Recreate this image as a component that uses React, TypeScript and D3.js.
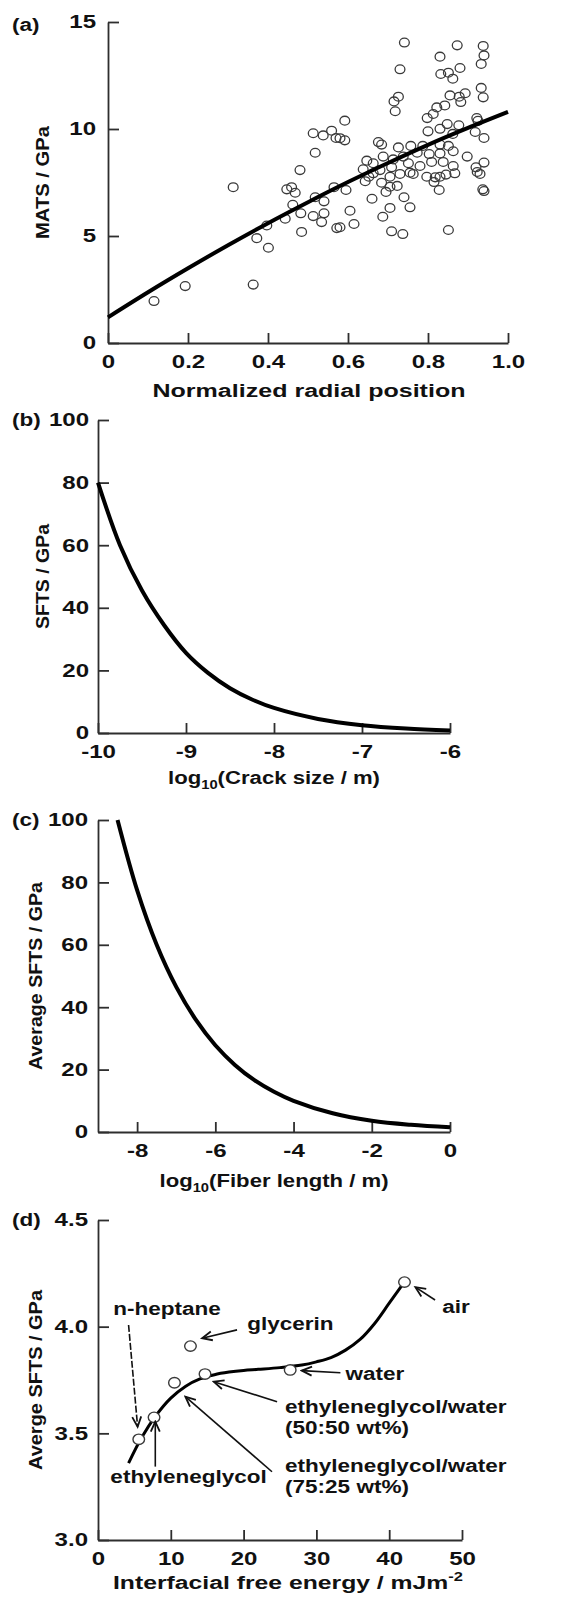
import React, { useEffect, useRef } from 'react';
import * as d3 from 'd3';

// (a) MATS vs normalized radial position
const matsScatter: [number, number][] = [
  [0.115, 1.96], [0.193, 2.66], [0.363, 2.73], [0.372, 4.9], [0.401, 4.45], [0.397, 5.49],
  [0.443, 5.81], [0.484, 5.19], [0.482, 6.06], [0.513, 5.93], [0.54, 6.06], [0.534, 5.65],
  [0.572, 5.37], [0.605, 6.18], [0.462, 6.46], [0.518, 6.81], [0.54, 6.62], [0.313, 7.28],
  [0.447, 7.18], [0.459, 7.28], [0.468, 7.02], [0.565, 7.28], [0.595, 7.15], [0.48, 8.08],
  [0.518, 8.89], [0.513, 9.8], [0.538, 9.7], [0.559, 9.92], [0.57, 9.58], [0.592, 9.47],
  [0.592, 10.39], [0.58, 5.41], [0.615, 5.56], [0.687, 5.9], [0.705, 6.31], [0.755, 6.34],
  [0.709, 5.22], [0.737, 5.09], [0.851, 5.28], [0.66, 6.74], [0.74, 6.81], [0.695, 7.06],
  [0.705, 7.3], [0.723, 7.34], [0.684, 7.49], [0.643, 7.56], [0.755, 7.96], [0.818, 7.74],
  [0.815, 7.52], [0.845, 7.87], [0.828, 7.15], [0.923, 7.99], [0.93, 7.9], [0.937, 7.18],
  [0.94, 7.1], [0.741, 14.04], [0.873, 13.91], [0.938, 13.88], [0.94, 13.44], [0.83, 13.38],
  [0.933, 13.04], [0.73, 12.79], [0.88, 12.85], [0.832, 12.57], [0.851, 12.63], [0.862, 12.35],
  [0.933, 11.92], [0.938, 11.48], [0.855, 11.57], [0.878, 11.51], [0.893, 11.67], [0.882, 11.26],
  [0.726, 11.51], [0.715, 11.29], [0.718, 10.83], [0.822, 11.01], [0.842, 11.1], [0.813, 10.7],
  [0.798, 10.51], [0.922, 10.51], [0.918, 9.86], [0.94, 9.58], [0.83, 10.01], [0.848, 10.23],
  [0.877, 10.17], [0.8, 9.89], [0.862, 9.77], [0.676, 9.39], [0.684, 9.27], [0.726, 9.14],
  [0.757, 9.21], [0.787, 9.21], [0.83, 9.27], [0.851, 9.21], [0.647, 8.52], [0.663, 8.4],
  [0.688, 8.71], [0.713, 8.58], [0.738, 8.71], [0.773, 8.89], [0.803, 8.83], [0.83, 8.86],
  [0.863, 8.96], [0.898, 8.71], [0.751, 8.4], [0.78, 8.27], [0.709, 8.21], [0.68, 8.08],
  [0.809, 8.46], [0.838, 8.46], [0.863, 8.27], [0.92, 8.21], [0.94, 8.43], [0.73, 7.9],
  [0.763, 7.9], [0.83, 7.77], [0.652, 7.77], [0.638, 8.12], [0.663, 7.93], [0.705, 7.77],
  [0.797, 7.77], [0.867, 7.93], [0.925, 10.38], [0.58, 9.57],
];
const fitRadial = [0, 0.1, 0.2, 0.3, 0.4, 0.5, 0.6, 0.7, 0.8, 0.9, 1.0];
const fitMATS = [1.2, 2.37, 3.49, 4.57, 5.6, 6.58, 7.52, 8.41, 9.26, 10.05, 10.8];
const radialTicks = [0, 0.2, 0.4, 0.6, 0.8, 1.0];
const matsTicks = [0, 5, 10, 15];

// (b) SFTS vs crack size
const crackLog = [-10, -9.75, -9.5, -9.25, -9, -8.75, -8.5, -8.25, -8, -7.5, -7, -6.5, -6];
const crackSFTS = [80, 60, 45.5, 34.5, 25.6, 19.2, 14.3, 10.7, 8, 4.5, 2.5, 1.4, 0.8];
const crackTicks = [-10, -9, -8, -7, -6];
const sftsTicks = [0, 20, 40, 60, 80, 100];

// (c) average SFTS vs fiber length
const fiberLog = [-8.5, -8, -7.5, -7, -6.5, -6, -5.5, -5, -4.5, -4, -3, -2, -1, 0];
const fiberSFTS = [100, 77.5, 60, 46.5, 36, 27.8, 21.5, 16.6, 12.9, 10, 6, 3.6, 2.3, 1.5];
const fiberTicks = [-8, -6, -4, -2, 0];

// (d) average SFTS vs interfacial free energy
const liquids = ['n-heptane', 'ethyleneglycol', 'ethyleneglycol/water (75:25 wt%)', 'glycerin',
  'ethyleneglycol/water (50:50 wt%)', 'water', 'air'];
const liquidEnergy = [5.6, 7.7, 10.5, 12.7, 14.7, 26.4, 42.1];
const liquidSFTS = [3.472, 3.575, 3.737, 3.909, 3.778, 3.797, 4.209];
const trendEnergy = [4.2, 6, 8, 10, 12, 14, 16, 18, 20, 22, 25, 28, 30, 32, 34, 36, 38, 40, 42.1];
const trendSFTS = [3.36, 3.48, 3.585, 3.665, 3.72, 3.755, 3.775, 3.787, 3.795, 3.8, 3.808,
  3.82, 3.835, 3.855, 3.89, 3.94, 4.015, 4.11, 4.21];
const energyTicks = [0, 10, 20, 30, 40, 50];
const avgTicks = [3.0, 3.5, 4.0, 4.5];

const FONT = '"Liberation Sans", Arial, Helvetica, sans-serif';
const INK = '#2e2e2e';
const SX = 1.25;

function widen(sel: any, k = SX) {
  sel.each(function (this: SVGTextElement) {
    const w = this.getComputedTextLength();
    if (w > 0) d3.select(this).attr('textLength', w * k).attr('lengthAdjust', 'spacingAndGlyphs');
  });
}

function txt(svg: any) {
  return svg.append('text')
    .attr('font-family', FONT)
    .attr('font-size', 18)
    .attr('font-weight', 'bold')
    .attr('fill', '#111');
}

function drawAxes(svg: any, x: any, y: any, o: any) {
  const gx = svg.append('g')
    .attr('transform', `translate(0,${y.range()[0]})`)
    .call(d3.axisBottom(x).tickValues(o.xTicks).tickFormat(o.xFmt)
      .tickSizeInner(-10).tickSizeOuter(0).tickPadding(o.xPad));
  const gy = svg.append('g')
    .attr('transform', `translate(${x.range()[0]},0)`)
    .call(d3.axisLeft(y).tickValues(o.yTicks).tickFormat(o.yFmt)
      .tickSizeInner(-11).tickSizeOuter(0).tickPadding(o.yPad));
  [gx, gy].forEach((g) => {
    g.attr('font-family', FONT).attr('font-size', 18.5).attr('font-weight', 'bold').attr('color', INK);
    g.selectAll('path, line').attr('stroke-width', 1.8);
    g.selectAll('text').attr('fill', '#111');
    widen(g.selectAll('text'), 1.3);
  });

  // panel letter
  widen(txt(svg).attr('x', 12).attr('y', o.letterY).text(o.letter));

  // y title
  const yr = y.range();
  txt(svg)
    .attr('transform', `translate(${o.yTitleX},${(yr[0] + yr[1]) / 2}) rotate(-90)`)
    .attr('text-anchor', 'middle')
    .attr('textLength', o.yTitleLen).attr('lengthAdjust', 'spacingAndGlyphs')
    .text(o.yTitle);

  // x title
  const t = txt(svg).attr('x', o.xTitleX).attr('y', o.xTitleY).attr('text-anchor', 'middle');
  o.xTitle(t);
  t.attr('textLength', o.xTitleLen).attr('lengthAdjust', 'spacingAndGlyphs');
}

const plain = (d: number) => String(d);

export default function App() {
  const ref = useRef<SVGSVGElement>(null);

  useEffect(() => {
    const svg = d3.select(ref.current);
    svg.selectAll('*').remove();

    const defs = svg.append('defs');
    defs.append('marker')
      .attr('id', 'arr')
      .attr('markerUnits', 'userSpaceOnUse')
      .attr('viewBox', '-2 -6 14 12')
      .attr('markerWidth', 14).attr('markerHeight', 12)
      .attr('refX', 10).attr('refY', 0)
      .attr('orient', 'auto')
      .append('path')
      .attr('d', 'M0,-4.5 L10,0 L0,4.5')
      .attr('fill', 'none').attr('stroke', '#111').attr('stroke-width', 1.8);

    const fmt1 = d3.format('.1f');
    const smooth = d3.curveCatmullRom.alpha(0.5);

    // ---------- (a)
    const xA = d3.scaleLinear().domain([0, 1]).range([108, 508]);
    const yA = d3.scaleLinear().domain([0, 15]).range([343, 22]);
    drawAxes(svg, xA, yA, {
      xTicks: radialTicks, yTicks: matsTicks,
      xFmt: (d: number) => (d === 0 ? '0' : fmt1(d)), yFmt: plain,
      xPad: 12, yPad: 12, letter: '(a)', letterY: 31,
      yTitle: 'MATS / GPa', yTitleX: 48.5, yTitleLen: 113,
      xTitle: (t: any) => t.text('Normalized radial position'),
      xTitleX: 309, xTitleY: 397, xTitleLen: 313,
    });
    svg.append('g').selectAll('ellipse').data(matsScatter).enter().append('ellipse')
      .attr('cx', (d) => xA(d[0])).attr('cy', (d) => yA(d[1]))
      .attr('rx', 4.9).attr('ry', 4.4)
      .attr('fill', 'none').attr('stroke', '#3a3a3a').attr('stroke-width', 1.3);
    svg.append('path')
      .datum(fitRadial.map((v, i) => [v, fitMATS[i]]))
      .attr('d', d3.line().x((d) => xA(d[0])).y((d) => yA(d[1])).curve(smooth) as any)
      .attr('fill', 'none').attr('stroke', '#000').attr('stroke-width', 4);

    // ---------- (b)
    const xB = d3.scaleLinear().domain([-10, -6]).range([98, 450]);
    const yB = d3.scaleLinear().domain([0, 100]).range([733, 420]);
    drawAxes(svg, xB, yB, {
      xTicks: crackTicks, yTicks: sftsTicks,
      xFmt: plain, yFmt: plain,
      xPad: 11.5, yPad: 9, letter: '(b)', letterY: 426,
      yTitle: 'SFTS / GPa', yTitleX: 49, yTitleLen: 105,
      xTitle: (t: any) => {
        t.append('tspan').text('log');
        t.append('tspan').attr('font-size', 12).attr('dy', 5).text('10');
        t.append('tspan').attr('dy', -5).text('(Crack size / m)');
      },
      xTitleX: 274, xTitleY: 784, xTitleLen: 212,
    });
    svg.append('path')
      .datum(crackLog.map((v, i) => [v, crackSFTS[i]]))
      .attr('d', d3.line().x((d) => xB(d[0])).y((d) => yB(d[1])).curve(smooth) as any)
      .attr('fill', 'none').attr('stroke', '#000').attr('stroke-width', 4);

    // ---------- (c)
    const xC = d3.scaleLinear().domain([-9, 0]).range([98, 450]);
    const yC = d3.scaleLinear().domain([0, 100]).range([1132, 820]);
    drawAxes(svg, xC, yC, {
      xTicks: fiberTicks, yTicks: sftsTicks,
      xFmt: plain, yFmt: plain,
      xPad: 12, yPad: 10, letter: '(c)', letterY: 826,
      yTitle: 'Average SFTS / GPa', yTitleX: 42, yTitleLen: 188,
      xTitle: (t: any) => {
        t.append('tspan').text('log');
        t.append('tspan').attr('font-size', 12).attr('dy', 5).text('10');
        t.append('tspan').attr('dy', -5).text('(Fiber length / m)');
      },
      xTitleX: 274, xTitleY: 1187, xTitleLen: 229,
    });
    svg.append('path')
      .datum(fiberLog.map((v, i) => [v, fiberSFTS[i]]))
      .attr('d', d3.line().x((d) => xC(d[0])).y((d) => yC(d[1])).curve(smooth) as any)
      .attr('fill', 'none').attr('stroke', '#000').attr('stroke-width', 4);

    // ---------- (d)
    const xD = d3.scaleLinear().domain([0, 50]).range([98, 462]);
    const yD = d3.scaleLinear().domain([3, 4.5]).range([1540, 1220]);
    drawAxes(svg, xD, yD, {
      xTicks: energyTicks, yTicks: avgTicks,
      xFmt: plain, yFmt: fmt1,
      xPad: 12, yPad: 10, letter: '(d)', letterY: 1226,
      yTitle: 'Averge SFTS / GPa', yTitleX: 41.5, yTitleLen: 180,
      xTitle: (t: any) => {
        t.append('tspan').text('Interfacial free energy  / mJm');
        t.append('tspan').attr('font-size', 12).attr('dy', -8).text('-2');
      },
      xTitleX: 288, xTitleY: 1589, xTitleLen: 350,
    });
    svg.append('path')
      .datum(trendEnergy.map((v, i) => [v, trendSFTS[i]]))
      .attr('d', d3.line().x((d) => xD(d[0])).y((d) => yD(d[1])).curve(smooth) as any)
      .attr('fill', 'none').attr('stroke', '#000').attr('stroke-width', 3);
    svg.append('g').selectAll('ellipse').data(liquids).enter().append('ellipse')
      .attr('cx', (_d, i) => xD(liquidEnergy[i])).attr('cy', (_d, i) => yD(liquidSFTS[i]))
      .attr('rx', 5.8).attr('ry', 5.2)
      .attr('fill', '#fff').attr('stroke', '#3a3a3a').attr('stroke-width', 1.4);

    // annotation labels and arrows, placed in data units
    const notes = [
      { text: 'n-heptane', x: 2.1, y: 4.055 },
      { text: 'glycerin', x: 20.5, y: 3.985 },
      { text: 'air', x: 47.3, y: 4.064 },
      { text: 'water', x: 34.0, y: 3.75 },
      { text: 'ethyleneglycol/water', x: 25.7, y: 3.594 },
      { text: '(50:50 wt%)', x: 25.7, y: 3.497 },
      { text: 'ethyleneglycol/water', x: 25.7, y: 3.32 },
      { text: '(75:25 wt%)', x: 25.7, y: 3.219 },
      { text: 'ethyleneglycol', x: 1.7, y: 3.266 },
    ];
    notes.forEach((n) => {
      widen(txt(svg).attr('x', xD(n.x)).attr('y', yD(n.y)).text(n.text));
    });
    const arrows = [
      { from: [4.2, 4.008], to: [5.44, 3.531], dash: true },
      { from: [7.87, 3.344], to: [7.87, 3.555] },
      { from: [19.1, 3.985], to: [14.3, 3.946] },
      { from: [46.3, 4.125], to: [43.6, 4.185] },
      { from: [33.3, 3.784], to: [28.0, 3.794] },
      { from: [24.6, 3.648], to: [15.9, 3.742] },
      { from: [23.9, 3.32], to: [12.0, 3.672] },
    ];
    arrows.forEach((a: any) => {
      svg.append('line')
        .attr('x1', xD(a.from[0])).attr('y1', yD(a.from[1]))
        .attr('x2', xD(a.to[0])).attr('y2', yD(a.to[1]))
        .attr('stroke', '#111').attr('stroke-width', 1.6)
        .attr('stroke-dasharray', a.dash ? '7,2' : null)
        .attr('marker-end', 'url(#arr)');
    });
  }, []);

  return (
    <svg
      ref={ref}
      width={575}
      height={1599}
      style={{ position: 'absolute', left: 0, top: 0, background: '#fff' }}
    />
  );
}
